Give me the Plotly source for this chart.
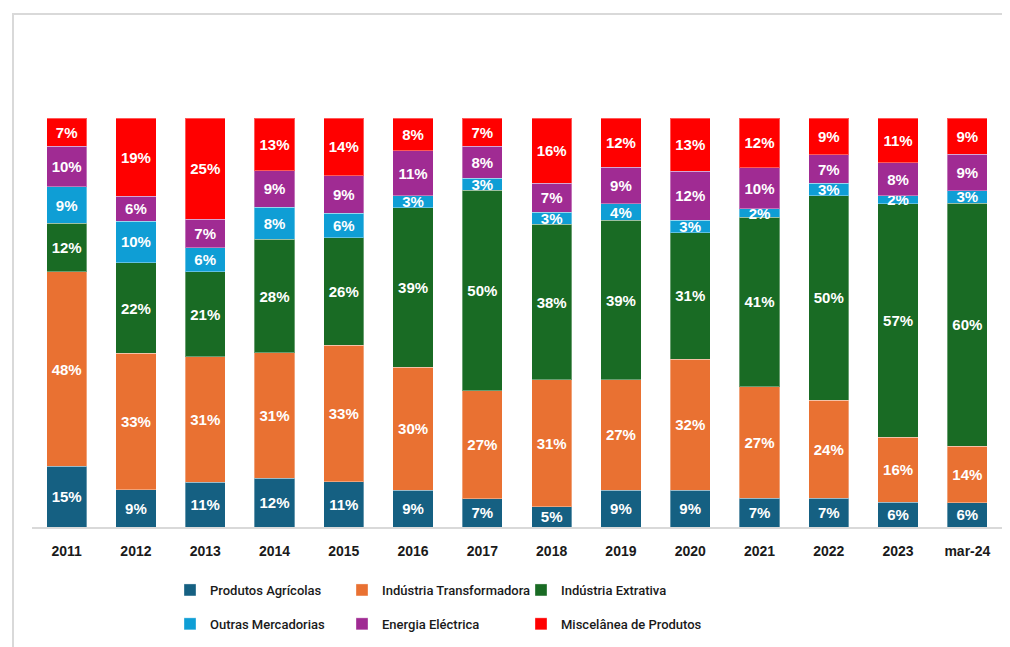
import plotly.graph_objects as go

# Export share by product group (%)
years = ["2011", "2012", "2013", "2014", "2015", "2016", "2017",
         "2018", "2019", "2020", "2021", "2022", "2023", "mar-24"]

produtos_agricolas = [15, 9, 11, 12, 11, 9, 7, 5, 9, 9, 7, 7, 6, 6]
industria_transformadora = [48, 33, 31, 31, 33, 30, 27, 31, 27, 32, 27, 24, 16, 14]
industria_extrativa = [12, 22, 21, 28, 26, 39, 50, 38, 39, 31, 41, 50, 57, 60]
outras_mercadorias = [9, 10, 6, 8, 6, 3, 3, 3, 4, 3, 2, 3, 2, 3]
energia_electrica = [10, 6, 7, 9, 9, 11, 8, 7, 9, 12, 10, 7, 8, 9]
miscelanea = [7, 19, 25, 13, 14, 8, 7, 16, 12, 13, 12, 9, 11, 9]

# (name, values, colour, legend column)
series = [
    ("Produtos Agrícolas", produtos_agricolas, "#156082", "legend"),
    ("Indústria Transformadora", industria_transformadora, "#E97132", "legend2"),
    ("Indústria Extrativa", industria_extrativa, "#196B24", "legend3"),
    ("Outras Mercadorias", outras_mercadorias, "#0F9ED5", "legend"),
    ("Energia Eléctrica", energia_electrica, "#A02B93", "legend2"),
    ("Miscelânea de Produtos", miscelanea, "#FF0000", "legend3"),
]

# the page body has an 8px margin, so the figure sits 8px in from the window edge
PAGE = 8
W, H = 1002, 639
# paper runs to the bottom of the figure so the legends sit inside it
# (keeps them from pushing the margins); the bars use the upper part via the domain
M_L, M_R, M_T, M_B = 24, 8, 110, 0
paper_w = W - M_L - M_R
paper_h = H - M_T - M_B
BAR_BOTTOM = 527  # page px of the baseline


def px_x(x):
    return (x - PAGE - M_L) / paper_w


def px_y(y):
    return (H - M_B - (y - PAGE)) / paper_h


fig = go.Figure()
for name, vals, colour, leg in series:
    fig.add_trace(
        go.Bar(
            x=years,
            y=vals,
            name=name,
            legend=leg,
            legendgroup=name,
            marker=dict(color=colour, line=dict(color="rgba(255,255,255,0.35)", width=1)),
            text=[f"{v}%" for v in vals],
            textposition="inside",
            insidetextanchor="middle",
            textangle=0,
            textfont=dict(family="Liberation Sans, Arial, sans-serif", size=15,
                          color="white", weight="bold"),
            hovertemplate="%{x}<br>" + name + ": %{text}<extra></extra>",
        )
    )

legend_style = dict(
    orientation="v",
    traceorder="grouped",
    tracegroupgap=14,
    xanchor="left",
    yanchor="middle",
    y=px_y(607),
    font=dict(family="Roboto, sans-serif", size=13, color="#1a1a1a", weight=500),
    bgcolor="rgba(0,0,0,0)",
    itemclick=False,
)

fig.update_layout(
    barmode="stack",
    barnorm="percent",
    bargap=0.42,
    width=W,
    height=H,
    paper_bgcolor="white",
    plot_bgcolor="white",
    margin=dict(l=M_L, r=M_R, t=M_T, b=M_B),
    uniformtext=dict(mode="show", minsize=15),
    showlegend=True,
    legend=dict(x=px_x(170), **legend_style),
    legend2=dict(x=px_x(342), **legend_style),
    legend3=dict(x=px_x(521), **legend_style),
    xaxis=dict(
        showline=True,
        linecolor="#d9d9d9",
        linewidth=1.5,
        showgrid=False,
        ticks="",
        tickfont=dict(family="Liberation Sans, Arial, sans-serif", size=14,
                      color="#1a1a1a", weight="bold"),
        ticklabelstandoff=10,
        fixedrange=True,
    ),
    yaxis=dict(visible=False, range=[0, 100], domain=[px_y(BAR_BOTTOM), 1],
               fixedrange=True),
    shapes=[
        # light grey chart-area frame (only the top and left edges fall inside the window)
        dict(type="rect", xref="paper", yref="paper",
             x0=px_x(13), x1=px_x(1040), y0=px_y(680), y1=px_y(14),
             line=dict(color="#d9d9d9", width=2), fillcolor="rgba(0,0,0,0)",
             layer="below"),
    ],
)

fig.write_html("out.html")
